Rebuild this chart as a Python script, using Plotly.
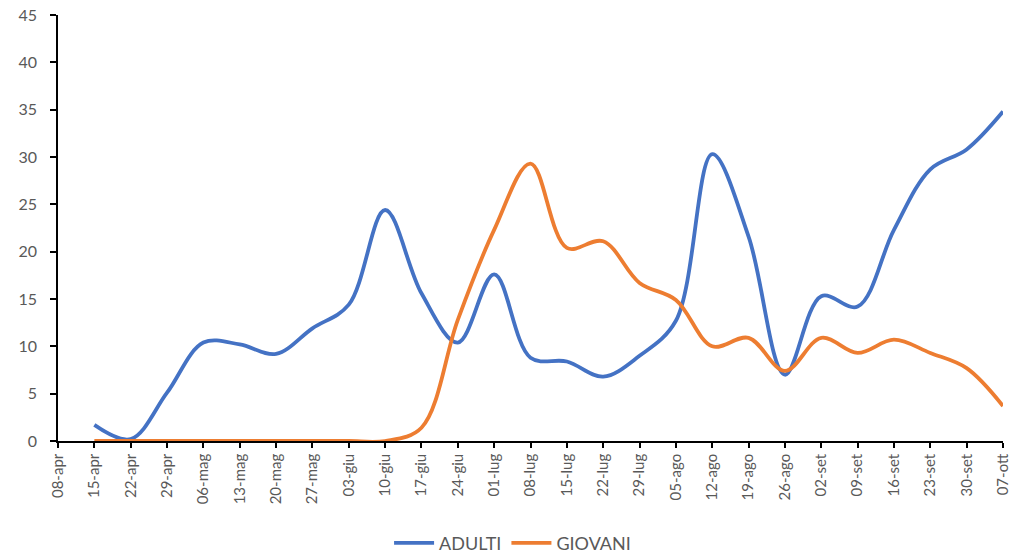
import plotly.graph_objects as go

# Weekly dates (Italian short form)
weeks = ["08-apr", "15-apr", "22-apr", "29-apr", "06-mag", "13-mag", "20-mag",
         "27-mag", "03-giu", "10-giu", "17-giu", "24-giu", "01-lug", "08-lug",
         "15-lug", "22-lug", "29-lug", "05-ago", "12-ago", "19-ago", "26-ago",
         "02-set", "09-set", "16-set", "23-set", "30-set", "07-ott"]

adulti = [None, 1.7, 0.2, 5.1, 10.4, 10.2, 9.2, 11.9, 14.4, 24.4, 15.6, 10.4,
          17.6, 8.8, 8.4, 6.8, 9.0, 12.7, 30.3, 21.6, 7.0, 15.3, 14.2, 22.3,
          28.7, 30.8, 34.8]

giovani = [None, 0, 0, 0, 0, 0, 0, 0, 0, 0, 1.4, 12.8, 22.3, 29.3, 20.4, 21.1,
           16.7, 14.9, 10.0, 10.9, 7.4, 10.9, 9.3, 10.7, 9.3, 7.7, 3.7]

y_ticks = list(range(0, 46, 5))

idx = list(range(len(weeks)))
font_family = "Lato, 'Open Sans', sans-serif"
grey = "#595959"

fig = go.Figure()
fig.add_trace(go.Scatter(
    x=idx, y=adulti, name="ADULTI", mode="lines",
    line=dict(color="#4472C4", width=3.8, shape="spline", smoothing=1.0),
    connectgaps=False,
))
fig.add_trace(go.Scatter(
    x=idx, y=giovani, name="GIOVANI", mode="lines",
    line=dict(color="#ED7D31", width=3.8, shape="spline", smoothing=1.0),
    connectgaps=False,
))

fig.update_layout(
    width=1015, height=556,
    margin=dict(l=58, r=12, t=15, b=115, autoexpand=False),
    paper_bgcolor="white", plot_bgcolor="white",
    font=dict(family=font_family, color=grey),
    showlegend=True,
    legend=dict(
        orientation="h", xref="container", x=0.505, xanchor="center",
        yref="container", y=0.023, yanchor="middle",
        font=dict(size=18, color=grey), itemwidth=40, tracegroupgap=0,
    ),
)

fig.update_xaxes(
    range=[0, len(weeks) - 1], automargin=False,
    tickmode="array", tickvals=idx, ticktext=weeks,
    tickangle=-90, tickfont=dict(size=15, color=grey),
    ticks="outside", ticklen=5, tickcolor="black", tickwidth=1.5,
    showline=True, linecolor="black", linewidth=1.5,
    showgrid=False, zeroline=False,
)
fig.update_yaxes(
    range=[0, 45], automargin=False, tickmode="array", tickvals=y_ticks,
    tickfont=dict(size=16, color=grey),
    ticks="outside", ticklen=6, tickcolor="black", tickwidth=1.5,
    ticklabelstandoff=10,
    showline=True, linecolor="black", linewidth=1.5,
    showgrid=False, zeroline=False,
)

fig.write_html("out.html")
